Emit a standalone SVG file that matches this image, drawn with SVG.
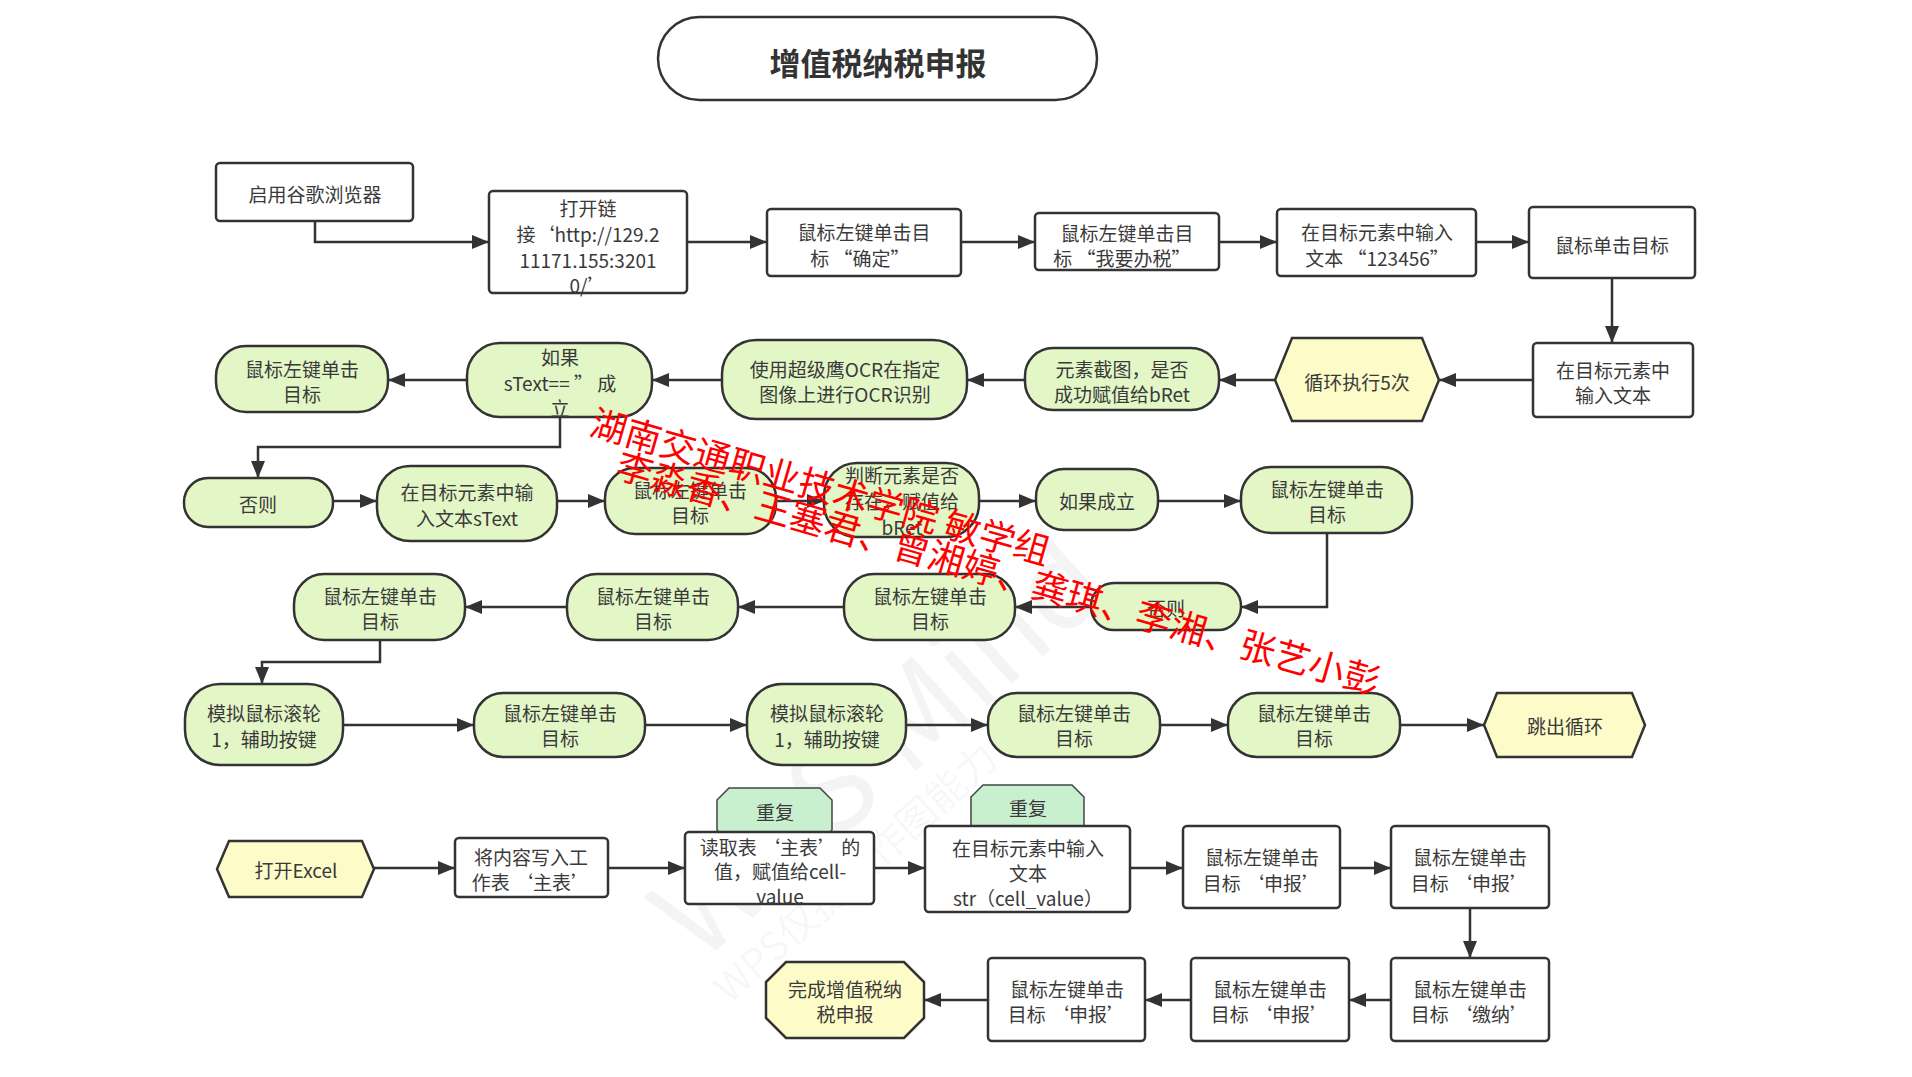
<svg xmlns="http://www.w3.org/2000/svg" width="1912" height="1077" viewBox="0 0 1912 1077">
<style>
.box{fill:#fff;stroke:#333;stroke-width:2.5}
.g{fill:#e3f6c6;stroke:#333;stroke-width:2.5}
.y{fill:#fdfbc8;stroke:#333;stroke-width:2.5}
.tag{fill:#c8f0cf;stroke:#444;stroke-width:1.5}
.t{font-family:"Noto Sans CJK SC","Noto Sans",sans-serif;font-size:19px;fill:#3a3a3a;text-anchor:middle;dominant-baseline:central}
.title{font-size:31px;font-weight:bold;fill:#333}
.c{fill:none;stroke:#333;stroke-width:2.5;marker-end:url(#arr)}
.wm{font-family:"Noto Sans CJK SC",sans-serif;fill:#000;fill-opacity:0.045}
.red{font-family:"Noto Sans CJK SC",sans-serif;font-size:36px;fill:#f00}
</style>
<defs>
<marker id="arr" markerUnits="userSpaceOnUse" markerWidth="18" markerHeight="16" refX="17" refY="8" orient="auto">
<path d="M0,1 L17,8 L0,15 z" fill="#333"/>
</marker>
</defs>
<rect width="1912" height="1077" fill="#fff"/>

<g id="watermark-wps">
<text class="wm" x="700" y="965" font-size="120" transform="rotate(-42 700 965)">WPS Mind</text>
<text class="wm" x="730" y="1005" font-size="40" transform="rotate(-42 730 1005)">WPS仅提供作图能力</text>
</g>

<g id="connectors">
<path class="c" d="M315,221 V242 H489"/>
<path class="c" d="M687,242 H767"/>
<path class="c" d="M961,242 H1035"/>
<path class="c" d="M1219,242 H1277"/>
<path class="c" d="M1476,242 H1529"/>
<path class="c" d="M1612,278 V343"/>
<path class="c" d="M1533,380 H1439"/>
<path class="c" d="M1275,380 H1219"/>
<path class="c" d="M1025,380 H967"/>
<path class="c" d="M722,380 H652"/>
<path class="c" d="M467,380 H388"/>
<path class="c" d="M560,417 V447 H258 V478"/>
<path class="c" d="M333,501 H377"/>
<path class="c" d="M557,501 H605"/>
<path class="c" d="M776,501 H824"/>
<path class="c" d="M979,501 H1036"/>
<path class="c" d="M1158,501 H1241"/>
<path class="c" d="M1327,533 V607 H1241"/>
<path class="c" d="M1091,607 H1015"/>
<path class="c" d="M844,607 H738"/>
<path class="c" d="M567,607 H465"/>
<path class="c" d="M380,640 V662 H262 V684"/>
<path class="c" d="M343,725 H474"/>
<path class="c" d="M645,725 H747"/>
<path class="c" d="M906,725 H988"/>
<path class="c" d="M1160,725 H1228"/>
<path class="c" d="M1400,725 H1484"/>
<path class="c" d="M374,868 H455"/>
<path class="c" d="M608,868 H685"/>
<path class="c" d="M874,868 H925"/>
<path class="c" d="M1130,868 H1183"/>
<path class="c" d="M1340,868 H1391"/>
<path class="c" d="M1470,908 V958"/>
<path class="c" d="M1391,1000 H1349"/>
<path class="c" d="M1191,1000 H1145"/>
<path class="c" d="M988,1000 H924"/>
</g>

<g id="title"><rect class="box" x="658" y="17" width="439" height="83" rx="41.5"/><text class="t title" x="878" y="61">增值税纳税申报</text></g>

<g id="n1"><rect class="box" x="216" y="163" width="197" height="58" rx="4"/><text class="t" x="315" y="193">启用谷歌浏览器</text></g>
<g id="n2"><rect class="box" x="489" y="191" width="198" height="102" rx="4"/><text class="t" x="588" y="207">打开链</text><text class="t" x="588" y="233">接‘http://129.2</text><text class="t" x="588" y="259">11171.155:3201</text><text class="t" x="588" y="284">0/’</text></g>
<g id="n3"><rect class="box" x="767" y="209" width="194" height="67" rx="4"/><text class="t" x="864" y="231">鼠标左键单击目</text><text class="t" x="860" y="257">标 “确定”</text></g>
<g id="n4"><rect class="box" x="1035" y="213" width="184" height="57" rx="4"/><text class="t" x="1127" y="232">鼠标左键单击目</text><text class="t" x="1122" y="257">标 “我要办税”</text></g>
<g id="n5"><rect class="box" x="1277" y="209" width="199" height="67" rx="4"/><text class="t" x="1377" y="231">在目标元素中输入</text><text class="t" x="1377" y="257">文本 “123456”</text></g>
<g id="n6"><rect class="box" x="1529" y="207" width="166" height="71" rx="4"/><text class="t" x="1612" y="244">鼠标单击目标</text></g>

<g id="n7"><rect class="box" x="1533" y="343" width="160" height="74" rx="4"/><text class="t" x="1613" y="369">在目标元素中</text><text class="t" x="1613" y="394">输入文本</text></g>
<g id="n8"><polygon class="y" points="1275,380 1292,338 1422,338 1439,380 1422,421 1292,421"/><text class="t" x="1357" y="381">循环执行5次</text></g>
<g id="n9"><rect class="g" x="1025" y="348" width="194" height="62" rx="28"/><text class="t" x="1122" y="368">元素截图，是否</text><text class="t" x="1122" y="393">成功赋值给bRet</text></g>
<g id="n10"><rect class="g" x="722" y="340" width="245" height="79" rx="34"/><text class="t" x="845" y="368">使用超级鹰OCR在指定</text><text class="t" x="845" y="393">图像上进行OCR识别</text></g>
<g id="n11"><rect class="g" x="467" y="343" width="185" height="74" rx="33"/><text class="t" x="560" y="356">如果</text><text class="t" x="560" y="382">sText== ”  成</text><text class="t" x="560" y="407">立</text></g>
<g id="n12"><rect class="g" x="216" y="346" width="172" height="66" rx="30"/><text class="t" x="302" y="368">鼠标左键单击</text><text class="t" x="302" y="393">目标</text></g>

<g id="n13"><rect class="g" x="184" y="478" width="149" height="49" rx="24"/><text class="t" x="258" y="503">否则</text></g>
<g id="n14"><rect class="g" x="377" y="466" width="180" height="75" rx="33"/><text class="t" x="467" y="491">在目标元素中输</text><text class="t" x="467" y="517">入文本sText</text></g>
<g id="n15"><rect class="g" x="605" y="468" width="171" height="66" rx="30"/><text class="t" x="690" y="489">鼠标左键单击</text><text class="t" x="690" y="514">目标</text></g>
<g id="n16"><rect class="g" x="824" y="463" width="155" height="74" rx="33"/><text class="t" x="902" y="474">判断元素是否</text><text class="t" x="902" y="500">存在，赋值给</text><text class="t" x="902" y="526">bRet</text></g>
<g id="n17"><rect class="g" x="1036" y="469" width="122" height="61" rx="28"/><text class="t" x="1097" y="500">如果成立</text></g>
<g id="n18"><rect class="g" x="1241" y="467" width="171" height="66" rx="30"/><text class="t" x="1327" y="488">鼠标左键单击</text><text class="t" x="1327" y="513">目标</text></g>

<g id="n19"><rect class="g" x="1091" y="583" width="150" height="47" rx="23"/><text class="t" x="1166" y="607">否则</text></g>
<g id="n20"><rect class="g" x="844" y="574" width="171" height="66" rx="30"/><text class="t" x="930" y="595">鼠标左键单击</text><text class="t" x="930" y="620">目标</text></g>
<g id="n21"><rect class="g" x="567" y="574" width="171" height="66" rx="30"/><text class="t" x="653" y="595">鼠标左键单击</text><text class="t" x="653" y="620">目标</text></g>
<g id="n22"><rect class="g" x="294" y="574" width="171" height="66" rx="30"/><text class="t" x="380" y="595">鼠标左键单击</text><text class="t" x="380" y="620">目标</text></g>

<g id="n23"><rect class="g" x="185" y="684" width="158" height="81" rx="35"/><text class="t" x="264" y="712">模拟鼠标滚轮</text><text class="t" x="264" y="738">1，辅助按键</text></g>
<g id="n24"><rect class="g" x="474" y="693" width="171" height="64" rx="29"/><text class="t" x="560" y="712">鼠标左键单击</text><text class="t" x="560" y="737">目标</text></g>
<g id="n25"><rect class="g" x="747" y="684" width="159" height="81" rx="35"/><text class="t" x="827" y="712">模拟鼠标滚轮</text><text class="t" x="827" y="738">1，辅助按键</text></g>
<g id="n26"><rect class="g" x="988" y="693" width="172" height="64" rx="29"/><text class="t" x="1074" y="712">鼠标左键单击</text><text class="t" x="1074" y="737">目标</text></g>
<g id="n27"><rect class="g" x="1228" y="693" width="172" height="64" rx="29"/><text class="t" x="1314" y="712">鼠标左键单击</text><text class="t" x="1314" y="737">目标</text></g>
<g id="n28"><polygon class="y" points="1484,725 1497,693 1632,693 1645,725 1632,757 1497,757"/><text class="t" x="1565" y="725">跳出循环</text></g>

<g id="n29"><polygon class="y" points="217,869 229,841 362,841 374,869 362,897 229,897"/><text class="t" x="296" y="869">打开Excel</text></g>
<g id="n30"><rect class="box" x="455" y="838" width="153" height="59" rx="4"/><text class="t" x="531" y="856">将内容写入工</text><text class="t" x="531" y="881">作表 ‘主表’</text></g>
<g id="n31">
<polygon class="tag" points="729,788 820,788 832,800 832,830 820,842 729,842 717,830 717,800"/><text class="t" x="775" y="811">重复</text>
<rect class="box" x="685" y="832" width="189" height="72" rx="4"/><text class="t" x="780" y="846">读取表 ‘主表’ 的</text><text class="t" x="780" y="870">值，赋值给cell-</text><text class="t" x="780" y="895">value</text></g>
<g id="n32">
<polygon class="tag" points="983,785 1072,785 1084,797 1084,826 1072,838 983,838 971,826 971,797"/><text class="t" x="1028" y="807">重复</text>
<rect class="box" x="925" y="826" width="205" height="86" rx="4"/><text class="t" x="1028" y="847">在目标元素中输入</text><text class="t" x="1028" y="872">文本</text><text class="t" x="1028" y="897">str（cell_value）</text></g>
<g id="n33"><rect class="box" x="1183" y="826" width="157" height="82" rx="4"/><text class="t" x="1262" y="856">鼠标左键单击</text><text class="t" x="1262" y="882">目标 ‘申报’</text></g>
<g id="n34"><rect class="box" x="1391" y="826" width="158" height="82" rx="4"/><text class="t" x="1470" y="856">鼠标左键单击</text><text class="t" x="1470" y="882">目标 ‘申报’</text></g>

<g id="n35"><rect class="box" x="1391" y="958" width="158" height="83" rx="4"/><text class="t" x="1470" y="988">鼠标左键单击</text><text class="t" x="1470" y="1013">目标 ‘缴纳’</text></g>
<g id="n36"><rect class="box" x="1191" y="958" width="158" height="83" rx="4"/><text class="t" x="1270" y="988">鼠标左键单击</text><text class="t" x="1270" y="1013">目标 ‘申报’</text></g>
<g id="n37"><rect class="box" x="988" y="958" width="157" height="83" rx="4"/><text class="t" x="1067" y="988">鼠标左键单击</text><text class="t" x="1067" y="1013">目标 ‘申报’</text></g>
<g id="n38"><polygon class="y" points="786,962 904,962 924,982 924,1018 904,1038 786,1038 766,1018 766,982"/><text class="t" x="845" y="988">完成增值税纳</text><text class="t" x="845" y="1013">税申报</text></g>

<g id="watermark-red">
<text class="red" x="588" y="434" transform="rotate(16 588 434)">湖南交通职业技术学院 敏学组</text>
<text class="red" x="614" y="477" transform="rotate(16 614 477)">李淼香、王塞君、曾湘婷、龚琪、李湘、张艺小彭</text>
</g>
</svg>
